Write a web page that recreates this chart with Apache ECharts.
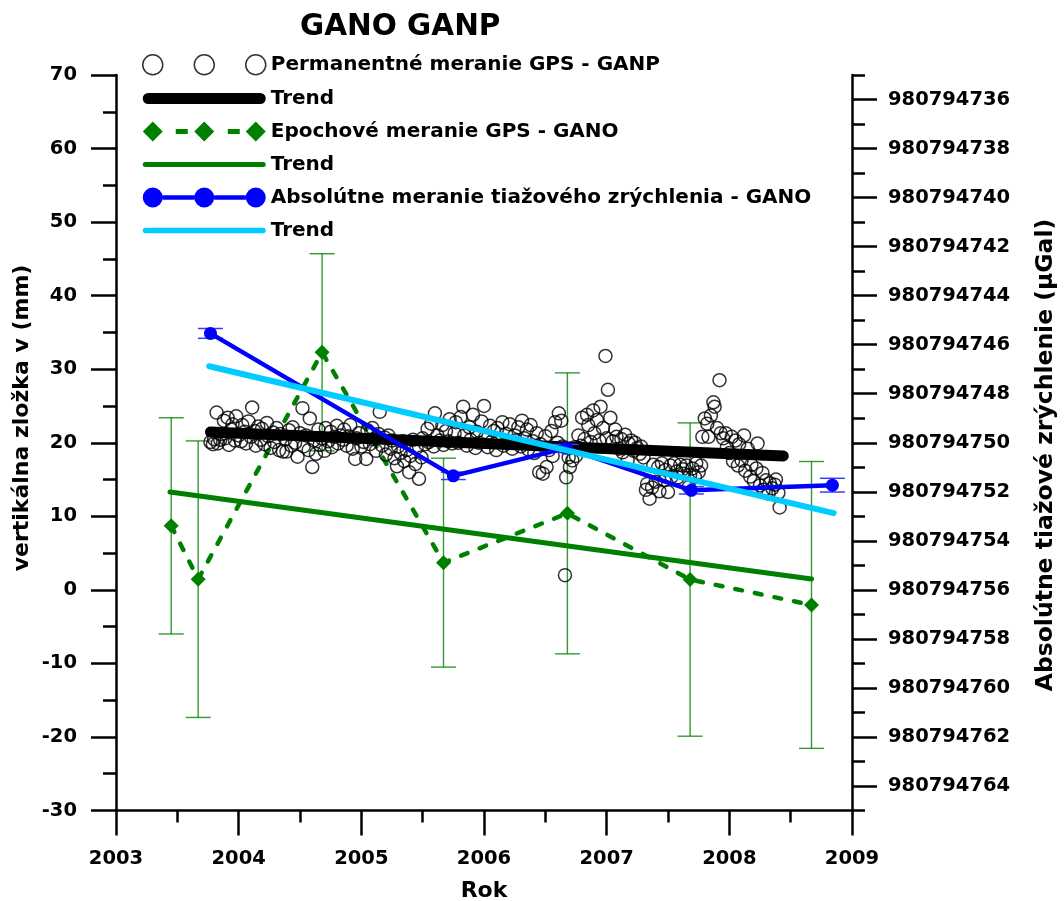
<!DOCTYPE html>
<html><head><meta charset="utf-8">
<script src="https://cdn.jsdelivr.net/npm/echarts@6/dist/echarts.min.js"></script>
<style>html,body{margin:0;padding:0;background:#fff}#c{width:1064px;height:901px}</style>
</head><body><div id="c"></div>
<script>
const FONT = '"DejaVu Sans", sans-serif';

// ---- Permanent GPS (GANP), vertical component in mm: [year, value]
const permanentGPS = [
[2003.77,20.1],[2003.79,19.8],[2003.80,20.5],[2003.82,24.1],[2003.83,19.9],[2003.85,20.4],[2003.86,21.2],[2003.88,23.0],
[2003.89,20.6],[2003.91,23.4],[2003.92,19.7],[2003.94,21.8],[2003.95,22.5],[2003.97,20.3],[2003.98,23.6],[2004.00,21.0],
[2004.02,20.2],[2004.03,22.4],[2004.05,21.5],[2004.06,19.9],[2004.08,22.9],[2004.10,20.8],[2004.11,24.8],[2004.13,21.6],
[2004.14,19.6],[2004.16,22.2],[2004.18,20.4],[2004.19,21.9],[2004.21,19.8],[2004.23,22.7],[2004.24,20.9],[2004.26,19.3],
[2004.28,21.4],[2004.29,20.1],[2004.31,22.0],[2004.33,19.0],[2004.34,21.2],[2004.36,18.8],[2004.38,20.5],[2004.39,18.8],
[2004.41,21.7],[2004.43,19.6],[2004.44,22.1],[2004.46,20.0],[2004.48,18.1],[2004.50,21.3],[2004.52,24.7],[2004.53,19.5],
[2004.55,21.0],[2004.57,19.0],[2004.58,23.3],[2004.60,16.7],[2004.61,20.3],[2004.63,18.5],[2004.65,21.8],[2004.66,19.7],
[2004.68,20.6],[2004.70,18.9],[2004.71,22.0],[2004.73,20.2],[2004.75,21.5],[2004.76,19.4],[2004.78,20.8],[2004.80,22.3],
[2004.81,19.9],[2004.83,21.0],[2004.85,20.4],[2004.86,21.8],[2004.88,19.6],[2004.90,20.9],[2004.91,22.4],[2004.93,19.2],
[2004.95,17.8],[2004.96,20.6],[2004.98,21.3],[2005.00,19.5],[2005.02,20.1],[2005.04,17.8],[2005.05,21.7],[2005.07,19.8],
[2005.09,22.0],[2005.10,20.5],[2005.12,18.9],[2005.14,21.2],[2005.15,24.2],[2005.17,19.6],[2005.19,20.7],[2005.20,18.4],
[2005.22,21.0],[2005.24,19.2],[2005.25,20.3],[2005.27,17.9],[2005.29,16.8],[2005.30,19.5],[2005.32,18.6],[2005.34,20.2],
[2005.35,17.5],[2005.37,19.0],[2005.39,16.0],[2005.40,18.2],[2005.42,20.4],[2005.44,17.1],[2005.45,19.3],[2005.47,15.1],
[2005.49,18.0],[2005.50,20.6],[2005.52,19.8],[2005.54,21.9],[2005.55,20.1],[2005.57,22.6],[2005.59,19.5],[2005.60,24.0],
[2005.62,21.0],[2005.64,20.3],[2005.66,22.4],[2005.67,19.7],[2005.69,21.6],[2005.71,20.2],[2005.72,23.2],[2005.74,19.9],
[2005.76,21.3],[2005.77,22.8],[2005.79,20.0],[2005.81,23.5],[2005.83,24.9],[2005.84,21.0],[2005.86,19.6],[2005.88,22.1],
[2005.89,20.4],[2005.91,23.8],[2005.93,19.3],[2005.94,21.5],[2005.96,20.0],[2005.98,22.9],[2006.00,25.0],[2006.01,20.7],
[2006.03,19.4],[2006.05,22.3],[2006.06,20.1],[2006.08,21.6],[2006.10,19.0],[2006.11,22.0],[2006.13,20.5],[2006.15,22.8],
[2006.16,19.6],[2006.18,21.2],[2006.20,20.0],[2006.21,22.5],[2006.23,19.2],[2006.25,21.0],[2006.26,20.3],[2006.28,22.1],
[2006.30,19.5],[2006.31,23.0],[2006.33,20.6],[2006.35,21.8],[2006.36,19.1],[2006.38,22.4],[2006.40,20.2],[2006.41,18.6],
[2006.43,21.3],[2006.45,16.0],[2006.46,19.8],[2006.48,15.8],[2006.50,20.9],[2006.51,16.7],[2006.53,19.0],[2006.55,21.6],
[2006.56,18.2],[2006.58,22.8],[2006.60,20.0],[2006.61,24.0],[2006.63,23.0],[2006.64,19.5],[2006.66,2.0],[2006.67,15.3],
[2006.69,18.0],[2006.70,16.7],[2006.72,17.6],[2006.74,19.4],[2006.75,18.2],[2006.77,21.0],[2006.79,19.6],[2006.80,23.4],
[2006.82,20.5],[2006.84,23.8],[2006.85,22.4],[2006.87,20.1],[2006.89,24.4],[2006.90,21.3],[2006.92,23.1],[2006.94,20.3],
[2006.95,24.9],[2006.97,22.0],[2006.99,31.8],[2007.00,20.6],[2007.01,27.2],[2007.03,23.4],[2007.05,20.2],[2007.07,21.8],
[2007.08,20.8],[2007.10,19.2],[2007.12,20.5],[2007.13,18.7],[2007.15,21.1],[2007.17,17.6],[2007.18,19.9],[2007.20,20.3],
[2007.22,18.9],[2007.23,20.0],[2007.25,19.3],[2007.27,18.5],[2007.28,19.5],[2007.30,18.0],[2007.32,13.6],[2007.33,14.4],
[2007.35,12.4],[2007.37,13.9],[2007.38,17.0],[2007.40,14.7],[2007.42,16.7],[2007.43,13.4],[2007.45,17.2],[2007.47,14.9],
[2007.48,16.3],[2007.50,13.3],[2007.52,16.9],[2007.53,15.4],[2007.55,17.2],[2007.57,16.1],[2007.58,15.3],[2007.60,17.0],
[2007.62,16.4],[2007.63,15.8],[2007.65,16.9],[2007.67,14.0],[2007.68,15.6],[2007.70,16.5],[2007.72,15.3],[2007.73,17.2],
[2007.75,16.0],[2007.77,16.9],[2007.78,20.8],[2007.80,23.3],[2007.82,22.6],[2007.83,20.8],[2007.85,23.7],[2007.87,25.5],
[2007.88,24.9],[2007.90,22.0],[2007.92,28.5],[2007.93,21.3],[2007.95,20.6],[2007.97,21.3],[2007.98,19.4],[2008.00,18.6],
[2008.02,20.8],[2008.03,17.5],[2008.05,20.3],[2008.07,16.9],[2008.08,19.8],[2008.10,17.6],[2008.12,21.0],[2008.13,16.2],
[2008.15,19.2],[2008.17,15.4],[2008.18,17.0],[2008.20,14.8],[2008.22,16.5],[2008.23,19.9],[2008.25,14.2],[2008.27,15.9],
[2008.28,13.6],[2008.30,14.9],[2008.32,13.1],[2008.33,14.5],[2008.35,13.8],[2008.37,14.3],[2008.38,15.0],[2008.40,13.2],
[2008.41,11.2]
];
const permTrendX = [2003.77, 2008.44];
const permTrendY = [21.47, 18.2];

// ---- Epoch GPS (GANO), mm
const epochYears  = [2003.45, 2003.67, 2004.68, 2005.67, 2006.68, 2007.68, 2008.67];
const epochValues = [8.7, 1.45, 32.3, 3.7, 10.4, 1.4, -2.05];
const epochErrors = [14.7, 18.8, 13.4, 14.2, 19.1, 21.3, 19.5];
const epochTrendX = [2003.44, 2008.67];
const epochTrendY = [13.3, 1.47];

// ---- Absolute gravity (GANO), µGal
const gravEpochs = [2003.77, 2005.75, 2006.67, 2007.69, 2008.84];
const gravValues = [980794745.54, 980794751.35, 980794750.22, 980794751.94, 980794751.73];
const gravErrors = [0.2, 0.15, 0.15, 0.15, 0.28];
const gravTrendX = [2003.76, 2008.85];
const gravTrendY = [980794746.88, 980794752.87];

// ---- Axis ticks
const gravMajorTicks = [980794736,980794738,980794740,980794742,980794744,980794746,980794748,980794750,980794752,980794754,980794756,980794758,980794760,980794762,980794764];
const gravMinorTicks = [980794735,980794737,980794739,980794741,980794743,980794745,980794747,980794749,980794751,980794753,980794755,980794757,980794759,980794761,980794763,980794765];

// ---- Names
const NAME_PERM = 'Permanentné meranie GPS - GANP';
const NAME_EPOCH = 'Epochové meranie GPS - GANO';
const NAME_GRAV = 'Absolútne meranie tiažového zrýchlenia - GANO';

const zip = (xs, ys) => xs.map((x, i) => [x, ys[i]]);

function errorBars(color, width, capHalf, opacity) {
  return function (params, api) {
    const x = api.value(0), lo = api.value(1), hi = api.value(2);
    const a = api.coord([x, lo]), b = api.coord([x, hi]);
    const st = { stroke: color, lineWidth: width, opacity: opacity };
    return { type: 'group', children: [
      { type: 'line', shape: { x1: a[0], y1: a[1], x2: b[0], y2: b[1] }, style: st },
      { type: 'line', shape: { x1: a[0] - capHalf, y1: a[1], x2: a[0] + capHalf, y2: a[1] }, style: st },
      { type: 'line', shape: { x1: b[0] - capHalf, y1: b[1], x2: b[0] + capHalf, y2: b[1] }, style: st }
    ]};
  };
}

const circ = (cx) => 'M' + (cx - 10) + ',10 A10,10 0 1,1 ' + (cx + 10) + ',10 A10,10 0 1,1 ' + (cx - 10) + ',10 Z ';
const diam = (cx) => 'M' + (cx - 10) + ',10 L' + cx + ',0 L' + (cx + 10) + ',10 L' + cx + ',20 Z ';
const ICON_CIRCLES = 'path://' + circ(10) + circ(61.5) + circ(113);
const ICON_DIAMONDS = 'path://' + diam(10) + 'M33,7.6 H45 V12.4 H33 Z ' + diam(61.5) + 'M85,7.6 H97 V12.4 H85 Z ' + diam(113);
const ICON_DOTS = 'path://' + circ(10) + 'M19.9,7.8 H51.6 V12.2 H19.9 Z ' + circ(61.5) + 'M71.4,7.8 H103.1 V12.2 H71.4 Z ' + circ(113);
const bar = (h) => 'path://M' + (h/2) + ',0 H' + (123 - h/2) + ' A' + (h/2) + ',' + (h/2) + ' 0 0,1 ' + (123 - h/2) + ',' + h + ' H' + (h/2) + ' A' + (h/2) + ',' + (h/2) + ' 0 0,1 ' + (h/2) + ',0 Z';

const axisLineStyle = { color: '#000', width: 2.5 };
const labelStyle = { color: '#000', fontFamily: FONT, fontWeight: 'bold', fontSize: 19.5 };

const chart = echarts.init(document.getElementById('c'), null, { renderer: 'canvas' });
chart.setOption({
  animation: false,
  backgroundColor: '#fff',
  title: {
    text: 'GANO GANP', left: 295, top: 7,
    textStyle: { fontFamily: FONT, fontWeight: 'bold', fontSize: 29.5, color: '#000' }
  },
  legend: {
    orient: 'vertical', left: 137, top: 49,
    itemWidth: 123, itemHeight: 20, itemGap: 13,
    selectedMode: false,
    formatter: (n) => n.indexOf('Trend') === 0 ? 'Trend' : n,
    textStyle: { fontFamily: FONT, fontWeight: 'bold', fontSize: 20, color: '#000' },
    data: [
      { name: NAME_PERM, icon: ICON_CIRCLES, itemStyle: { color: 'rgba(0,0,0,0)', borderColor: '#000', borderWidth: 1.5 } },
      { name: 'Trend1', icon: bar(11), itemStyle: { color: '#000', borderWidth: 0 } },
      { name: NAME_EPOCH, icon: ICON_DIAMONDS, itemStyle: { color: '#008000', borderWidth: 0 } },
      { name: 'Trend2', icon: bar(5), itemStyle: { color: '#008000', borderWidth: 0 } },
      { name: NAME_GRAV, icon: ICON_DOTS, itemStyle: { color: '#0000ff', borderWidth: 0 } },
      { name: 'Trend3', icon: bar(5.5), itemStyle: { color: '#00ccff', borderWidth: 0 } }
    ]
  },
  grid: { left: 116, top: 75, width: 736, height: 735.5, containLabel: false, outerBoundsMode: 'none' },
  xAxis: {
    type: 'value', min: 2003, max: 2009, interval: 1,
    name: 'Rok', nameLocation: 'middle', nameGap: 70,
    nameTextStyle: { fontFamily: FONT, fontWeight: 'bold', fontSize: 22, color: '#000' },
    axisLine: { show: true, onZero: false, lineStyle: axisLineStyle },
    axisTick: { show: true, length: 25, lineStyle: axisLineStyle },
    minorTick: { show: true, splitNumber: 2, length: 12, lineStyle: axisLineStyle },
    axisLabel: Object.assign({ margin: 38.5, formatter: (v) => String(v) }, labelStyle),
    splitLine: { show: false }, minorSplitLine: { show: false }
  },
  yAxis: [
    {
      type: 'value', position: 'left', min: -30, max: 70, interval: 10,
      axisLine: { show: true, onZero: false, lineStyle: axisLineStyle },
      axisTick: { show: true, length: 25, lineStyle: axisLineStyle },
      minorTick: { show: true, splitNumber: 2, length: 13, lineStyle: axisLineStyle },
      axisLabel: Object.assign({ margin: 39 }, labelStyle),
      splitLine: { show: false }, minorSplitLine: { show: false }
    },
    {
      type: 'value', position: 'right', inverse: true,
      min: 980794735, max: 980794765,
      axisLine: { show: true, onZero: false, lineStyle: axisLineStyle },
      axisTick: { show: true, length: 25, lineStyle: axisLineStyle, customValues: gravMajorTicks },
      axisLabel: Object.assign({ margin: 36, customValues: gravMajorTicks, formatter: (v) => String(Math.round(v)) }, labelStyle),
      splitLine: { show: false }
    },
    {
      type: 'value', position: 'right', inverse: true,
      min: 980794735, max: 980794765,
      axisLine: { show: false },
      axisTick: { show: true, length: 13, lineStyle: axisLineStyle, customValues: gravMinorTicks },
      axisLabel: { show: false },
      splitLine: { show: false }
    }
  ],
  graphic: [
    { type: 'text', x: 22, y: 418, rotation: Math.PI / 2,
      style: { text: 'vertikálna zložka v (mm)', fill: '#000', font: 'bold 22px ' + FONT, textAlign: 'center', textVerticalAlign: 'middle' } },
    { type: 'text', x: 1046, y: 455, rotation: Math.PI / 2,
      style: { text: 'Absolútne tiažové zrýchlenie (μGal)', fill: '#000', font: 'bold 23.5px ' + FONT, textAlign: 'center', textVerticalAlign: 'middle' } }
  ],
  series: [
    {
      type: 'custom', name: 'epochErr', xAxisIndex: 0, yAxisIndex: 0, z: 2, silent: true,
      renderItem: errorBars('#008000', 1.4, 12.5, 0.8),
      encode: { x: 0, y: [1, 2] },
      data: epochYears.map((t, i) => [t, epochValues[i] - epochErrors[i], epochValues[i] + epochErrors[i]])
    },
    {
      type: 'line', name: NAME_EPOCH, xAxisIndex: 0, yAxisIndex: 0, z: 3,
      data: zip(epochYears, epochValues),
      symbol: 'diamond', symbolSize: 15,
      itemStyle: { color: '#008000' },
      lineStyle: { color: '#008000', width: 4.5, type: [7, 13], cap: 'round' }
    },
    {
      type: 'line', name: 'Trend2', xAxisIndex: 0, yAxisIndex: 0, z: 3,
      data: zip(epochTrendX, epochTrendY), symbol: 'none',
      lineStyle: { color: '#008000', width: 5, cap: 'round' }
    },
    {
      type: 'scatter', name: NAME_PERM, xAxisIndex: 0, yAxisIndex: 0, z: 4,
      data: permanentGPS, symbol: 'circle', symbolSize: 13,
      itemStyle: { color: 'rgba(0,0,0,0)', borderColor: '#000', borderWidth: 1.5 }
    },
    {
      type: 'line', name: 'Trend1', xAxisIndex: 0, yAxisIndex: 0, z: 5,
      data: zip(permTrendX, permTrendY), symbol: 'none',
      lineStyle: { color: '#000', width: 11, cap: 'round' }
    },
    {
      type: 'custom', name: 'gravErr', xAxisIndex: 0, yAxisIndex: 1, z: 6, silent: true,
      renderItem: errorBars('#3a3aff', 1.5, 12.5, 1),
      encode: { x: 0, y: [1, 2] },
      data: gravEpochs.map((t, i) => [t, gravValues[i] - gravErrors[i], gravValues[i] + gravErrors[i]])
    },
    {
      type: 'line', name: NAME_GRAV, xAxisIndex: 0, yAxisIndex: 1, z: 6,
      data: zip(gravEpochs, gravValues),
      symbol: 'circle', symbolSize: 13,
      itemStyle: { color: '#0000ff' },
      lineStyle: { color: '#0000ff', width: 4.5 }
    },
    {
      type: 'line', name: 'Trend3', xAxisIndex: 0, yAxisIndex: 1, z: 7,
      data: zip(gravTrendX, gravTrendY), symbol: 'none',
      lineStyle: { color: '#00ccff', width: 6, cap: 'round' }
    }
  ]
});
</script>
</body></html>
